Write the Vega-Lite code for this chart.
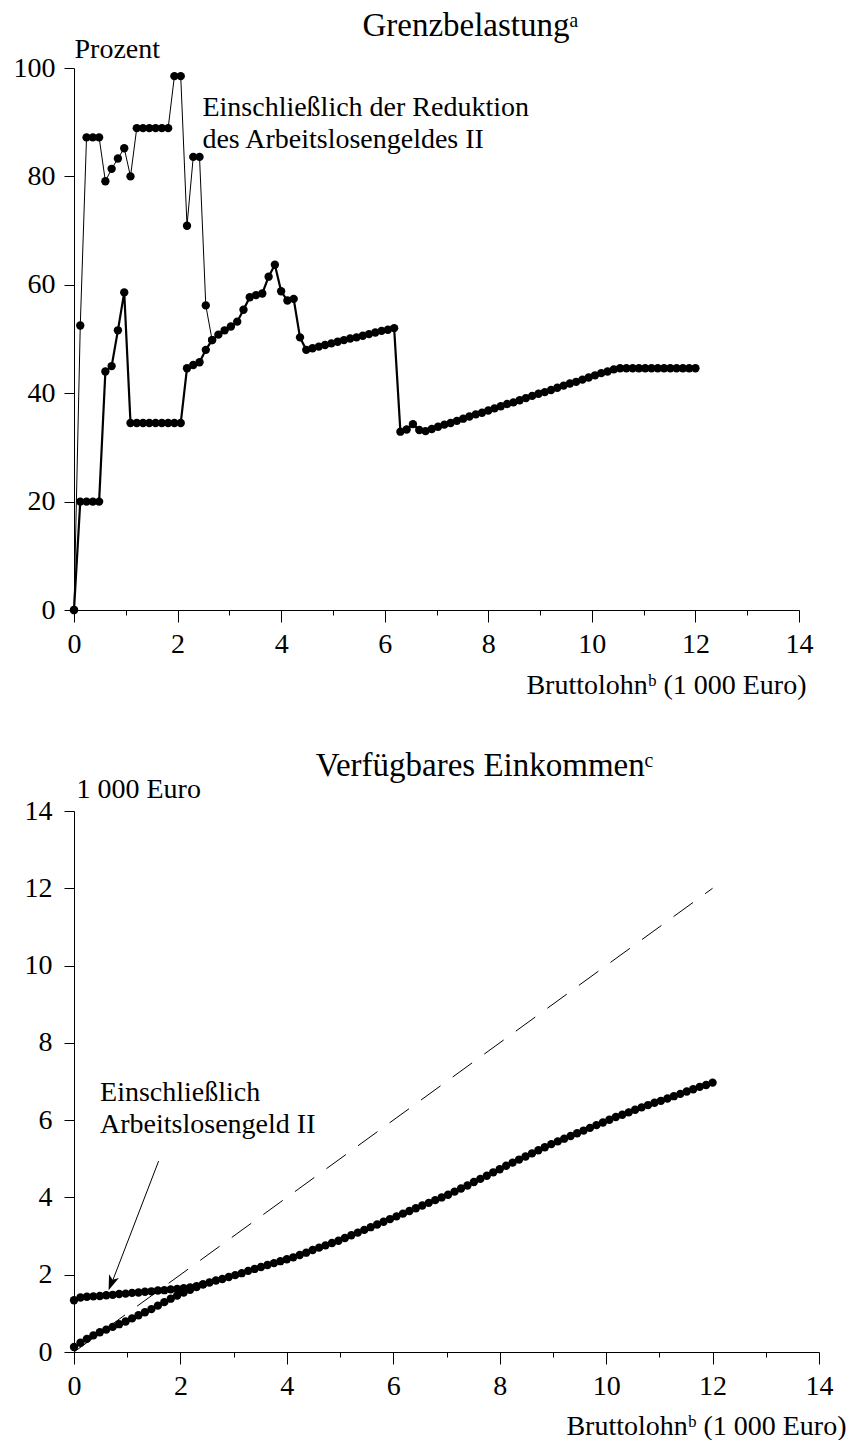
{
  "$schema": "https://vega.github.io/schema/vega-lite/v6.json",
  "background": "white",
  "padding": {"left": 13, "top": 10, "right": 5, "bottom": 0},
  "spacing": 51,
  "config": {
    "font": "Liberation Serif",
    "view": {"stroke": null},
    "title": {"fontSize": 33, "fontWeight": "normal", "color": "black", "anchor": "middle", "font": "Liberation Serif", "offset": -8},
    "axis": {
      "grid": false,
      "domainColor": "black",
      "tickColor": "black",
      "labelColor": "black",
      "titleColor": "black",
      "labelFont": "Liberation Serif",
      "titleFont": "Liberation Serif",
      "labelFontSize": 28,
      "titleFontSize": 28,
      "titleFontWeight": "normal",
      "domainWidth": 1,
      "tickWidth": 1,
      "labelOverlap": false,
      "labelFlush": false
    }
  },
  "datasets": {
    "grenz_ohne": [
      {"x": 0, "y": 0}, {"x": 0.121, "y": 20.0}, {"x": 0.242, "y": 20.0}, {"x": 0.364, "y": 20.0}, {"x": 0.485, "y": 20.0},
      {"x": 0.606, "y": 44.0}, {"x": 0.727, "y": 45.0}, {"x": 0.848, "y": 51.6}, {"x": 0.970, "y": 58.6}, {"x": 1.091, "y": 34.5},
      {"x": 1.212, "y": 34.5}, {"x": 1.333, "y": 34.5}, {"x": 1.455, "y": 34.5}, {"x": 1.576, "y": 34.5}, {"x": 1.697, "y": 34.5},
      {"x": 1.818, "y": 34.5}, {"x": 1.939, "y": 34.5}, {"x": 2.061, "y": 34.5}, {"x": 2.182, "y": 44.6}, {"x": 2.303, "y": 45.2},
      {"x": 2.424, "y": 45.7}, {"x": 2.545, "y": 48.0}, {"x": 2.667, "y": 49.8}, {"x": 2.788, "y": 50.8}, {"x": 2.909, "y": 51.6},
      {"x": 3.030, "y": 52.3}, {"x": 3.152, "y": 53.2}, {"x": 3.273, "y": 55.4}, {"x": 3.394, "y": 57.7}, {"x": 3.515, "y": 58.1},
      {"x": 3.636, "y": 58.4}, {"x": 3.758, "y": 61.5}, {"x": 3.879, "y": 63.7}, {"x": 4.000, "y": 58.8}, {"x": 4.121, "y": 57.1},
      {"x": 4.242, "y": 57.4}, {"x": 4.364, "y": 50.3}, {"x": 4.485, "y": 48.0}, {"x": 4.606, "y": 48.3}, {"x": 4.727, "y": 48.6},
      {"x": 4.848, "y": 48.9}, {"x": 4.970, "y": 49.2}, {"x": 5.091, "y": 49.5}, {"x": 5.212, "y": 49.8}, {"x": 5.333, "y": 50.1},
      {"x": 5.455, "y": 50.3}, {"x": 5.576, "y": 50.6}, {"x": 5.697, "y": 50.9}, {"x": 5.818, "y": 51.2}, {"x": 5.939, "y": 51.5},
      {"x": 6.061, "y": 51.7}, {"x": 6.182, "y": 52.0}, {"x": 6.303, "y": 32.9}, {"x": 6.424, "y": 33.3}, {"x": 6.545, "y": 34.3},
      {"x": 6.667, "y": 33.2}, {"x": 6.788, "y": 33.0}, {"x": 6.909, "y": 33.4}, {"x": 7.030, "y": 33.8}, {"x": 7.152, "y": 34.2},
      {"x": 7.273, "y": 34.5}, {"x": 7.394, "y": 34.9}, {"x": 7.515, "y": 35.3}, {"x": 7.636, "y": 35.7}, {"x": 7.758, "y": 36.1},
      {"x": 7.879, "y": 36.4}, {"x": 8.000, "y": 36.8}, {"x": 8.121, "y": 37.2}, {"x": 8.242, "y": 37.6}, {"x": 8.364, "y": 38.0},
      {"x": 8.485, "y": 38.3}, {"x": 8.606, "y": 38.7}, {"x": 8.727, "y": 39.1}, {"x": 8.848, "y": 39.5}, {"x": 8.970, "y": 39.9},
      {"x": 9.091, "y": 40.2}, {"x": 9.212, "y": 40.6}, {"x": 9.333, "y": 41.0}, {"x": 9.455, "y": 41.4}, {"x": 9.576, "y": 41.8},
      {"x": 9.697, "y": 42.1}, {"x": 9.818, "y": 42.5}, {"x": 9.939, "y": 42.9}, {"x": 10.061, "y": 43.3}, {"x": 10.182, "y": 43.7},
      {"x": 10.303, "y": 44.0}, {"x": 10.424, "y": 44.4}, {"x": 10.545, "y": 44.6}, {"x": 10.667, "y": 44.6}, {"x": 10.788, "y": 44.6},
      {"x": 10.909, "y": 44.6}, {"x": 11.030, "y": 44.6}, {"x": 11.152, "y": 44.6}, {"x": 11.273, "y": 44.6}, {"x": 11.394, "y": 44.6},
      {"x": 11.515, "y": 44.6}, {"x": 11.636, "y": 44.6}, {"x": 11.758, "y": 44.6}, {"x": 11.879, "y": 44.6}, {"x": 12.000, "y": 44.6}
    ],
    "grenz_mit": [
      {"x": 0, "y": 0}, {"x": 0.121, "y": 52.5}, {"x": 0.242, "y": 87.2}, {"x": 0.364, "y": 87.2}, {"x": 0.485, "y": 87.2},
      {"x": 0.606, "y": 79.1}, {"x": 0.727, "y": 81.4}, {"x": 0.848, "y": 83.3}, {"x": 0.970, "y": 85.2}, {"x": 1.091, "y": 80.0},
      {"x": 1.212, "y": 88.9}, {"x": 1.333, "y": 88.9}, {"x": 1.455, "y": 88.9}, {"x": 1.576, "y": 88.9}, {"x": 1.697, "y": 88.9},
      {"x": 1.818, "y": 88.9}, {"x": 1.939, "y": 98.5}, {"x": 2.061, "y": 98.5}, {"x": 2.182, "y": 70.9}, {"x": 2.303, "y": 83.6},
      {"x": 2.424, "y": 83.6}, {"x": 2.545, "y": 56.2}, {"x": 2.667, "y": 49.8}
    ],
    "eink_ohne": [
      {"x": 0, "y": 0.13}, {"x": 0.121, "y": 0.24}, {"x": 0.242, "y": 0.34}, {"x": 0.364, "y": 0.43}, {"x": 0.485, "y": 0.51},
      {"x": 0.606, "y": 0.58}, {"x": 0.727, "y": 0.65}, {"x": 0.848, "y": 0.72}, {"x": 0.970, "y": 0.79}, {"x": 1.091, "y": 0.87},
      {"x": 1.212, "y": 0.95}, {"x": 1.333, "y": 1.03}, {"x": 1.455, "y": 1.11}, {"x": 1.576, "y": 1.20}, {"x": 1.697, "y": 1.29},
      {"x": 1.818, "y": 1.38}, {"x": 1.939, "y": 1.46}, {"x": 2.061, "y": 1.54}, {"x": 2.182, "y": 1.61}, {"x": 2.303, "y": 1.68},
      {"x": 2.424, "y": 1.75}, {"x": 2.545, "y": 1.80}, {"x": 2.667, "y": 1.85}, {"x": 2.788, "y": 1.89}, {"x": 2.909, "y": 1.94},
      {"x": 3.030, "y": 1.99}, {"x": 3.152, "y": 2.04}, {"x": 3.273, "y": 2.10}, {"x": 3.394, "y": 2.15}, {"x": 3.515, "y": 2.20},
      {"x": 3.636, "y": 2.25}, {"x": 3.758, "y": 2.30}, {"x": 3.879, "y": 2.35}, {"x": 4.000, "y": 2.40}, {"x": 4.121, "y": 2.45},
      {"x": 4.242, "y": 2.51}, {"x": 4.364, "y": 2.57}, {"x": 4.485, "y": 2.64}, {"x": 4.606, "y": 2.70}, {"x": 4.727, "y": 2.76},
      {"x": 4.848, "y": 2.82}, {"x": 4.970, "y": 2.88}, {"x": 5.091, "y": 2.95}, {"x": 5.212, "y": 3.02}, {"x": 5.333, "y": 3.09},
      {"x": 5.455, "y": 3.16}, {"x": 5.576, "y": 3.23}, {"x": 5.697, "y": 3.30}, {"x": 5.818, "y": 3.37}, {"x": 5.939, "y": 3.44},
      {"x": 6.061, "y": 3.51}, {"x": 6.182, "y": 3.58}, {"x": 6.303, "y": 3.65}, {"x": 6.424, "y": 3.72}, {"x": 6.545, "y": 3.79},
      {"x": 6.667, "y": 3.86}, {"x": 6.788, "y": 3.93}, {"x": 6.909, "y": 4.00}, {"x": 7.030, "y": 4.07}, {"x": 7.152, "y": 4.15},
      {"x": 7.273, "y": 4.23}, {"x": 7.394, "y": 4.31}, {"x": 7.515, "y": 4.40}, {"x": 7.636, "y": 4.48}, {"x": 7.758, "y": 4.56},
      {"x": 7.879, "y": 4.65}, {"x": 8.000, "y": 4.73}, {"x": 8.121, "y": 4.82}, {"x": 8.242, "y": 4.90}, {"x": 8.364, "y": 4.98},
      {"x": 8.485, "y": 5.06}, {"x": 8.606, "y": 5.14}, {"x": 8.727, "y": 5.22}, {"x": 8.848, "y": 5.30}, {"x": 8.970, "y": 5.38},
      {"x": 9.091, "y": 5.45}, {"x": 9.212, "y": 5.52}, {"x": 9.333, "y": 5.59}, {"x": 9.455, "y": 5.66}, {"x": 9.576, "y": 5.73},
      {"x": 9.697, "y": 5.80}, {"x": 9.818, "y": 5.87}, {"x": 9.939, "y": 5.94}, {"x": 10.061, "y": 6.01}, {"x": 10.182, "y": 6.08},
      {"x": 10.303, "y": 6.14}, {"x": 10.424, "y": 6.20}, {"x": 10.545, "y": 6.27}, {"x": 10.667, "y": 6.33}, {"x": 10.788, "y": 6.39},
      {"x": 10.909, "y": 6.45}, {"x": 11.030, "y": 6.50}, {"x": 11.152, "y": 6.56}, {"x": 11.273, "y": 6.62}, {"x": 11.394, "y": 6.68},
      {"x": 11.515, "y": 6.74}, {"x": 11.636, "y": 6.80}, {"x": 11.758, "y": 6.86}, {"x": 11.879, "y": 6.91}, {"x": 12.000, "y": 6.97}
    ],
    "eink_mit": [
      {"x": 0, "y": 1.34}, {"x": 0.121, "y": 1.41}, {"x": 0.242, "y": 1.43}, {"x": 0.364, "y": 1.44}, {"x": 0.485, "y": 1.45},
      {"x": 0.606, "y": 1.47}, {"x": 0.727, "y": 1.48}, {"x": 0.848, "y": 1.50}, {"x": 0.970, "y": 1.51}, {"x": 1.091, "y": 1.53},
      {"x": 1.212, "y": 1.54}, {"x": 1.333, "y": 1.56}, {"x": 1.455, "y": 1.57}, {"x": 1.576, "y": 1.59}, {"x": 1.697, "y": 1.60},
      {"x": 1.818, "y": 1.62}, {"x": 1.939, "y": 1.63}, {"x": 2.061, "y": 1.65}, {"x": 2.182, "y": 1.67}, {"x": 2.303, "y": 1.70},
      {"x": 2.424, "y": 1.75}
    ],
    "diagonale": [{"x": 0, "y": 0}, {"x": 12, "y": 12}]
  },
  "vconcat": [
    {
      "title": {"text": "Grenzbelastungᵃ", "dx": 34},
      "width": 725,
      "height": 542,
      "encoding": {
        "x": {
          "field": "x", "type": "quantitative",
          "scale": {"domain": [0, 14], "nice": false},
          "axis": {
            "values": [0, 0.5, 1, 1.5, 2, 2.5, 3, 3.5, 4, 4.5, 5, 5.5, 6, 6.5, 7, 7.5, 8, 8.5, 9, 9.5, 10, 10.5, 11, 11.5, 12, 12.5, 13, 13.5, 14],
            "format": "d",
            "labelExpr": "datum.value % 2 === 0 ? datum.label : ''",
            "tickSize": {"condition": {"test": "datum.value % 2 === 0", "value": 12}, "value": 5},
            "labelPadding": 8,
            "title": "Bruttolohnᵇ (1 000 Euro)",
            "titleAlign": "right",
            "titleBaseline": "alphabetic",
            "titleX": 732,
            "titleY": 83
          }
        },
        "y": {
          "field": "y", "type": "quantitative",
          "scale": {"domain": [0, 100], "nice": false},
          "axis": {
            "values": [0, 20, 40, 60, 80, 100],
            "tickSize": 10,
            "labelPadding": 9,
            "title": "Prozent",
            "titleAngle": 0,
            "titleAlign": "left",
            "titleBaseline": "alphabetic",
            "titleX": 0,
            "titleY": -11
          }
        }
      },
      "layer": [
        {
          "data": {"name": "grenz_mit"},
          "mark": {"type": "line", "color": "black", "strokeWidth": 1, "point": {"filled": true, "size": 70, "color": "black"}}
        },
        {
          "data": {"name": "grenz_ohne"},
          "mark": {"type": "line", "color": "black", "strokeWidth": 2.2, "point": {"filled": true, "size": 70, "color": "black"}}
        },
        {
          "data": {"values": [{"x": 2.48, "y": 91.1, "t": "Einschließlich der Reduktion\ndes Arbeitslosengeldes II"}]},
          "mark": {"type": "text", "align": "left", "baseline": "alphabetic", "fontSize": 28, "font": "Liberation Serif", "lineBreak": "\n", "lineHeight": 32, "color": "black"},
          "encoding": {"text": {"field": "t"}}
        }
      ]
    },
    {
      "title": {"text": "Verfügbares Einkommenᶜ", "dx": 38},
      "width": 745,
      "height": 541,
      "encoding": {
        "x": {
          "field": "x", "type": "quantitative",
          "scale": {"domain": [0, 14], "nice": false},
          "axis": {
            "values": [0, 0.5, 1, 1.5, 2, 2.5, 3, 3.5, 4, 4.5, 5, 5.5, 6, 6.5, 7, 7.5, 8, 8.5, 9, 9.5, 10, 10.5, 11, 11.5, 12, 12.5, 13, 13.5, 14],
            "format": "d",
            "labelExpr": "datum.value % 2 === 0 ? datum.label : ''",
            "tickSize": {"condition": {"test": "datum.value % 2 === 0", "value": 12}, "value": 5},
            "labelPadding": 8,
            "title": "Bruttolohnᵇ (1 000 Euro)",
            "titleAlign": "right",
            "titleBaseline": "alphabetic",
            "titleX": 772,
            "titleY": 82
          }
        },
        "y": {
          "field": "y", "type": "quantitative",
          "scale": {"domain": [0, 14], "nice": false},
          "axis": {
            "values": [0, 2, 4, 6, 8, 10, 12, 14],
            "tickSize": 10,
            "labelPadding": 12,
            "title": "1 000 Euro",
            "titleAngle": 0,
            "titleAlign": "left",
            "titleBaseline": "alphabetic",
            "titleX": 2,
            "titleY": -14
          }
        }
      },
      "layer": [
        {
          "data": {"name": "diagonale"},
          "mark": {"type": "line", "color": "black", "strokeWidth": 1, "strokeDash": [24, 15]}
        },
        {
          "data": {"name": "eink_mit"},
          "mark": {"type": "line", "color": "black", "strokeWidth": 2, "point": {"filled": true, "size": 70, "color": "black"}}
        },
        {
          "data": {"name": "eink_ohne"},
          "mark": {"type": "line", "color": "black", "strokeWidth": 2, "point": {"filled": true, "size": 70, "color": "black"}}
        },
        {
          "data": {"values": [{"x": 1.59, "y": 4.94, "x2": 0.68, "y2": 1.68}]},
          "mark": {"type": "rule", "color": "black", "strokeWidth": 1},
          "encoding": {"x2": {"field": "x2"}, "y2": {"field": "y2"}}
        },
        {
          "data": {"values": [{"x": 0.65, "y": 1.60}]},
          "mark": {"type": "point", "shape": "M0,0 L0.35,1 L0,0.75 L-0.35,1 Z", "filled": true, "color": "black", "size": 900, "angle": 201, "opacity": 1}
        },
        {
          "data": {"values": [{"x": 0.49, "y": 6.5, "t": "Einschließlich\nArbeitslosengeld II"}]},
          "mark": {"type": "text", "align": "left", "baseline": "alphabetic", "fontSize": 28, "font": "Liberation Serif", "lineBreak": "\n", "lineHeight": 32, "color": "black"},
          "encoding": {"text": {"field": "t"}}
        }
      ]
    }
  ]
}
